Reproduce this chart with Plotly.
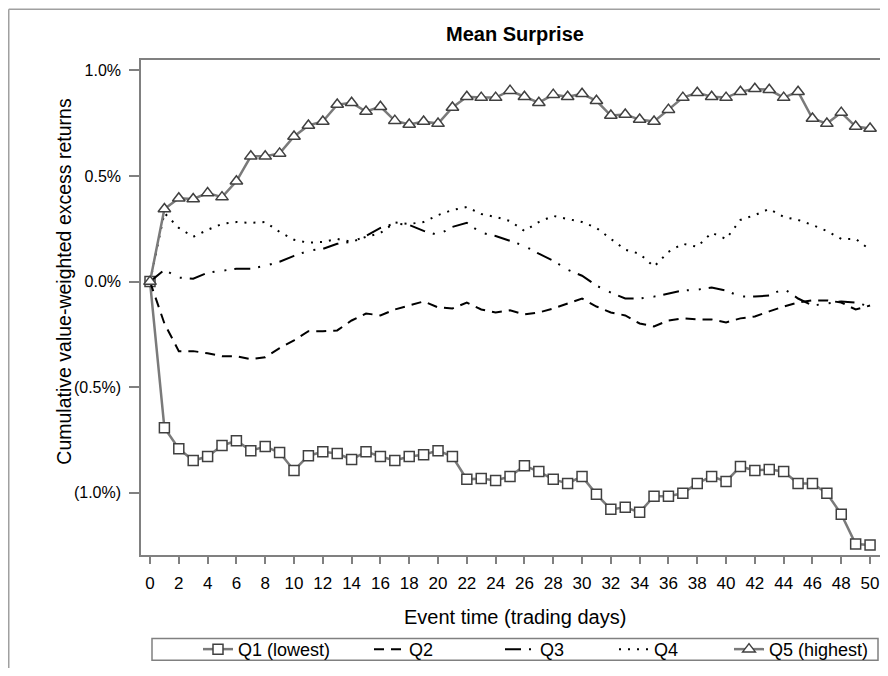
import plotly.graph_objects as go

days = list(range(0, 51))

q1_lowest = [0.0, -0.692, -0.791, -0.847, -0.828, -0.776, -0.753, -0.800, -0.781, -0.809,
             -0.894, -0.824, -0.805, -0.814, -0.842, -0.805, -0.828, -0.847, -0.828, -0.819,
             -0.800, -0.828, -0.936, -0.932, -0.941, -0.922, -0.871, -0.899, -0.936, -0.955,
             -0.922, -1.007, -1.078, -1.068, -1.092, -1.016, -1.016, -1.002, -0.955, -0.922,
             -0.946, -0.875, -0.894, -0.889, -0.899, -0.955, -0.955, -1.002, -1.101, -1.242,
             -1.247]

q2 = [0.0, -0.198, -0.329, -0.329, -0.339, -0.353, -0.353, -0.367, -0.358, -0.315,
      -0.278, -0.235, -0.235, -0.231, -0.184, -0.151, -0.160, -0.132, -0.113, -0.094,
      -0.122, -0.127, -0.099, -0.132, -0.146, -0.136, -0.155, -0.146, -0.127, -0.104,
      -0.080, -0.118, -0.146, -0.160, -0.198, -0.212, -0.184, -0.174, -0.179, -0.179,
      -0.193, -0.174, -0.165, -0.141, -0.118, -0.099, -0.089, -0.089, -0.099, -0.132,
      -0.113]

q3 = [0.0, 0.056, 0.019, 0.014, 0.042, 0.052, 0.061, 0.061, 0.075, 0.094,
      0.122, 0.146, 0.155, 0.179, 0.188, 0.216, 0.254, 0.275, 0.268, 0.240,
      0.221, 0.259, 0.278, 0.231, 0.216, 0.193, 0.169, 0.132, 0.099, 0.056,
      0.028, -0.019, -0.052, -0.080, -0.080, -0.071, -0.056, -0.042, -0.038, -0.028,
      -0.042, -0.071, -0.071, -0.066, -0.033, -0.080, -0.113, -0.104, -0.094, -0.099,
      -0.118]

q4 = [0.0, 0.325, 0.254, 0.212, 0.245, 0.273, 0.282, 0.278, 0.282, 0.235,
      0.198, 0.184, 0.188, 0.202, 0.188, 0.212, 0.230, 0.280, 0.273, 0.282,
      0.315, 0.339, 0.353, 0.320, 0.306, 0.287, 0.240, 0.282, 0.311, 0.296,
      0.282, 0.254, 0.202, 0.151, 0.132, 0.071, 0.141, 0.179, 0.165, 0.231,
      0.202, 0.292, 0.315, 0.344, 0.306, 0.292, 0.268, 0.240, 0.202, 0.202,
      0.151]

q5_highest = [0.0, 0.344, 0.395, 0.391, 0.419, 0.400, 0.475, 0.593, 0.593, 0.607,
              0.687, 0.739, 0.758, 0.838, 0.847, 0.805, 0.828, 0.762, 0.744, 0.758,
              0.748, 0.824, 0.875, 0.871, 0.871, 0.904, 0.875, 0.847, 0.885, 0.875,
              0.889, 0.856, 0.786, 0.791, 0.767, 0.758, 0.814, 0.871, 0.894, 0.875,
              0.871, 0.899, 0.913, 0.908, 0.871, 0.899, 0.772, 0.748, 0.800, 0.734,
              0.725]

series_names = ["Q1 (lowest)", "Q2", "Q3", "Q4", "Q5 (highest)"]
x_ticks = list(range(0, 51, 2))
y_ticks = [-1.0, -0.5, 0.0, 0.5, 1.0]
y_tick_text = ["(1.0%)", "(0.5%)", "0.0%", "0.5%", "1.0%"]

FONT = "Liberation Sans, Arial, sans-serif"
# the page body has an 8px margin on every side, so the figure is 16px smaller
W, H = 872, 660
L, R, T, B = 133, 0, 52, 110
PW = W - L - R
PH = H - T - B


def px_x(p):
    return (p - L) / PW


def px_y(p):
    return (H - B - p) / PH


legend_names = ["legend", "legend2", "legend3", "legend4", "legend5"]
legend_left_px = [190, 361, 492, 606, 721]

fig = go.Figure()

fig.add_trace(go.Scatter(
    x=days, y=q1_lowest, name=series_names[0], mode="lines+markers", legend=legend_names[0],
    line=dict(color="#7a7a7a", width=2.5),
    marker=dict(symbol="square", size=10, color="white",
                line=dict(color="#404040", width=1.5))))
fig.add_trace(go.Scatter(
    x=days, y=q2, name=series_names[1], mode="lines", legend=legend_names[1],
    line=dict(color="black", width=2, dash="10px,7px")))
fig.add_trace(go.Scatter(
    x=days, y=q3, name=series_names[2], mode="lines", legend=legend_names[2],
    line=dict(color="black", width=2, dash="16px,8px,2px,10px,2px,8px")))
fig.add_trace(go.Scatter(
    x=days, y=q4, name=series_names[3], mode="lines", legend=legend_names[3],
    line=dict(color="black", width=2, dash="2px,7px")))
fig.add_trace(go.Scatter(
    x=days, y=q5_highest, name=series_names[4], mode="lines+markers", legend=legend_names[4],
    line=dict(color="#7a7a7a", width=2.5),
    marker=dict(symbol="triangle-up", size=11, color="white",
                line=dict(color="#404040", width=1.5))))

legend_cfg = {}
for nm, lx in zip(legend_names, legend_left_px):
    legend_cfg[nm] = dict(orientation="h", x=px_x(lx), xanchor="left",
                          y=px_y(645), yanchor="middle",
                          bgcolor="rgba(0,0,0,0)", borderwidth=0,
                          font=dict(family=FONT, size=18, color="black"))

fig.update_layout(
    width=W, height=H,
    margin=dict(l=L, r=R, t=T, b=B, pad=0),
    paper_bgcolor="white", plot_bgcolor="white",
    font=dict(family=FONT, size=17, color="black"),
    showlegend=True,
    title=dict(text="<b>Mean Surprise</b>", x=px_x(507), xref="paper",
               y=1 - 26 / H, yref="container", xanchor="center", yanchor="middle",
               font=dict(family=FONT, size=20)),
    xaxis=dict(range=[-0.625, 50.69], tickmode="array", tickvals=x_ticks,
               ticks="outside", ticklen=7, tickwidth=1.5, tickcolor="#808080",
               ticklabelstandoff=5,
               showline=True, linecolor="#808080", linewidth=1.5, mirror=True,
               showgrid=False, zeroline=False,
               tickfont=dict(family=FONT, size=17)),
    yaxis=dict(range=[-1.294, 1.049], tickmode="array", tickvals=y_ticks,
               ticktext=y_tick_text,
               ticks="outside", ticklen=10, tickwidth=1.5, tickcolor="#808080",
               ticklabelstandoff=5,
               showline=True, linecolor="#808080", linewidth=1.5, mirror=False,
               showgrid=False, zeroline=False,
               tickfont=dict(family=FONT, size=16)),
    annotations=[
        dict(text="Event time (trading days)", xref="paper", yref="paper",
             x=px_x(507), y=px_y(612), xanchor="center", yanchor="middle",
             showarrow=False, font=dict(family=FONT, size=20)),
        dict(text="Cumulative value-weighted excess returns", xref="paper", yref="paper",
             x=px_x(56), y=px_y(275), xanchor="center", yanchor="middle", textangle=-90,
             showarrow=False, font=dict(family=FONT, size=19.5)),
    ],
    shapes=[
        dict(type="line", xref="paper", yref="paper",
             x0=px_x(0.75), x1=px_x(W + 5), y0=px_y(1), y1=px_y(1),
             line=dict(color="#a0a0a0", width=1.5)),
        dict(type="line", xref="paper", yref="paper",
             x0=px_x(0.75), x1=px_x(0.75), y0=px_y(1), y1=px_y(H + 5),
             line=dict(color="#a0a0a0", width=1.5)),
        dict(type="rect", xref="paper", yref="paper",
             x0=px_x(144), x1=px_x(870), y0=px_y(634), y1=px_y(656),
             line=dict(color="#808080", width=1.5), fillcolor="rgba(0,0,0,0)"),
    ],
    **legend_cfg,
)

fig.write_html("out.html")
